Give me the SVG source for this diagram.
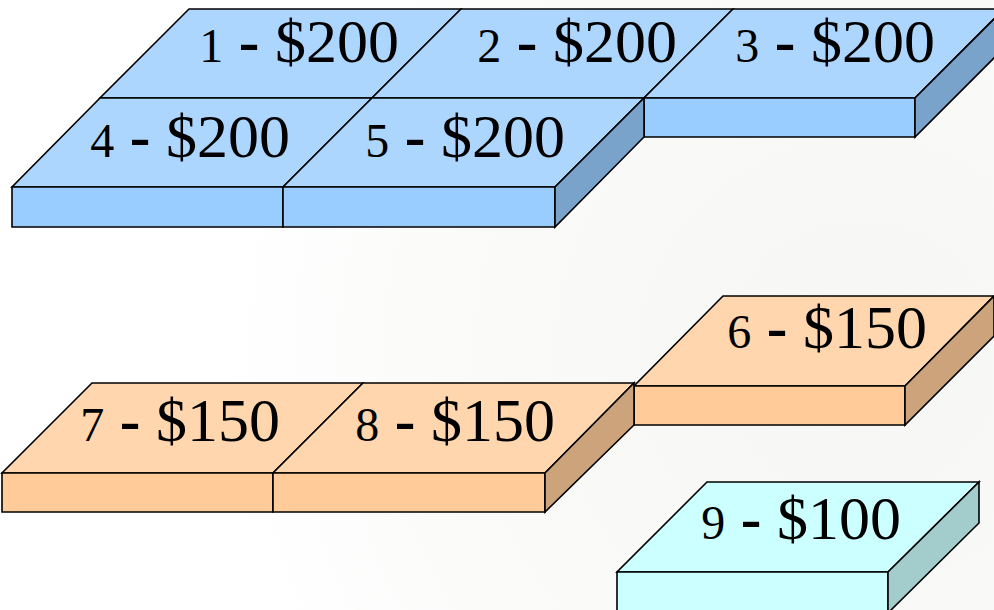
<svg xmlns="http://www.w3.org/2000/svg" width="994" height="610" viewBox="0 0 994 610">
<defs>
<radialGradient id="bg" cx="860" cy="360" r="640" gradientUnits="userSpaceOnUse">
<stop offset="0" stop-color="#f6f6f4"/>
<stop offset="0.6" stop-color="#fafaf9"/>
<stop offset="1" stop-color="#ffffff"/>
</radialGradient>
</defs>
<style>
polygon{stroke:#000;stroke-width:1.6;stroke-linejoin:miter}
.bt{fill:#ADD6FF}.bf{fill:#99CCFF}.bs{fill:#7AA3CC}
.ot{fill:#FFD6AD}.of{fill:#FFCC99}.os{fill:#CCA37A}
.ct{fill:#CCFFFF}.cf{fill:#CCFFFF}.cs{fill:#A3CCCC}
text{font-family:"Liberation Serif","Times New Roman",serif;font-size:62px;fill:#000;text-anchor:end}
.d{font-size:48px}
.m{font-weight:bold}
</style>
<rect width="994" height="610" fill="url(#bg)"/>
<g id="connectors"/>
<g id="tile1">
<polygon class="bt" points="189,9 461,9 372,98 100,98"/>
<text x="399" y="62"><tspan class="d">1</tspan><tspan class="m"> - </tspan>$200</text>
</g>
<g id="tile2">
<polygon class="bt" points="461,9 733,9 644,98 372,98"/>
<text x="677" y="62"><tspan class="d">2</tspan><tspan class="m"> - </tspan>$200</text>
</g>
<g id="tile3">
<polygon class="bt" points="733,9 1004,9 915,98 644,98"/>
<polygon class="bf" points="644,98 915,98 915,137 644,137"/>
<polygon class="bs" points="915,98 1004,9 1004,48 915,137"/>
<text x="935" y="62"><tspan class="d">3</tspan><tspan class="m"> - </tspan>$200</text>
</g>
<g id="tile4">
<polygon class="bt" points="100,98 372,98 283,187 12,187"/>
<polygon class="bf" points="12,187 283,187 283,227 12,227"/>
<text x="290" y="157"><tspan class="d">4</tspan><tspan class="m"> - </tspan>$200</text>
</g>
<g id="tile5">
<polygon class="bt" points="372,98 644,98 555,187 283,187"/>
<polygon class="bf" points="283,187 555,187 555,227 283,227"/>
<polygon class="bs" points="555,187 644,98 644,137 555,227"/>
<text x="565" y="157"><tspan class="d">5</tspan><tspan class="m"> - </tspan>$200</text>
</g>
<g id="tile6">
<polygon class="ot" points="723,296 994,296 905,386 634,386"/>
<polygon class="of" points="634,386 905,386 905,425 634,425"/>
<polygon class="os" points="905,386 994,296 994,336 905,425"/>
<text x="927" y="348"><tspan class="d">6</tspan><tspan class="m"> - </tspan>$150</text>
</g>
<g id="tile7">
<polygon class="ot" points="92,383 363,383 273,473 2,473"/>
<polygon class="of" points="2,473 273,473 273,512 2,512"/>
<text x="280" y="441"><tspan class="d">7</tspan><tspan class="m"> - </tspan>$150</text>
</g>
<g id="tile8">
<polygon class="ot" points="363,383 634,383 545,473 273,473"/>
<polygon class="of" points="273,473 545,473 545,512 273,512"/>
<polygon class="os" points="545,473 634,383 634,425 545,512"/>
<text x="555" y="441"><tspan class="d">8</tspan><tspan class="m"> - </tspan>$150</text>
</g>
<g id="tile9">
<polygon class="ct" points="707,482 979,482 888,572 617,572"/>
<polygon class="cf" points="617,572 888,572 888,620 617,620"/>
<polygon class="cs" points="888,572 979,482 979,523 888,613"/>
<text x="901" y="539"><tspan class="d">9</tspan><tspan class="m"> - </tspan>$100</text>
</g>
</svg>
